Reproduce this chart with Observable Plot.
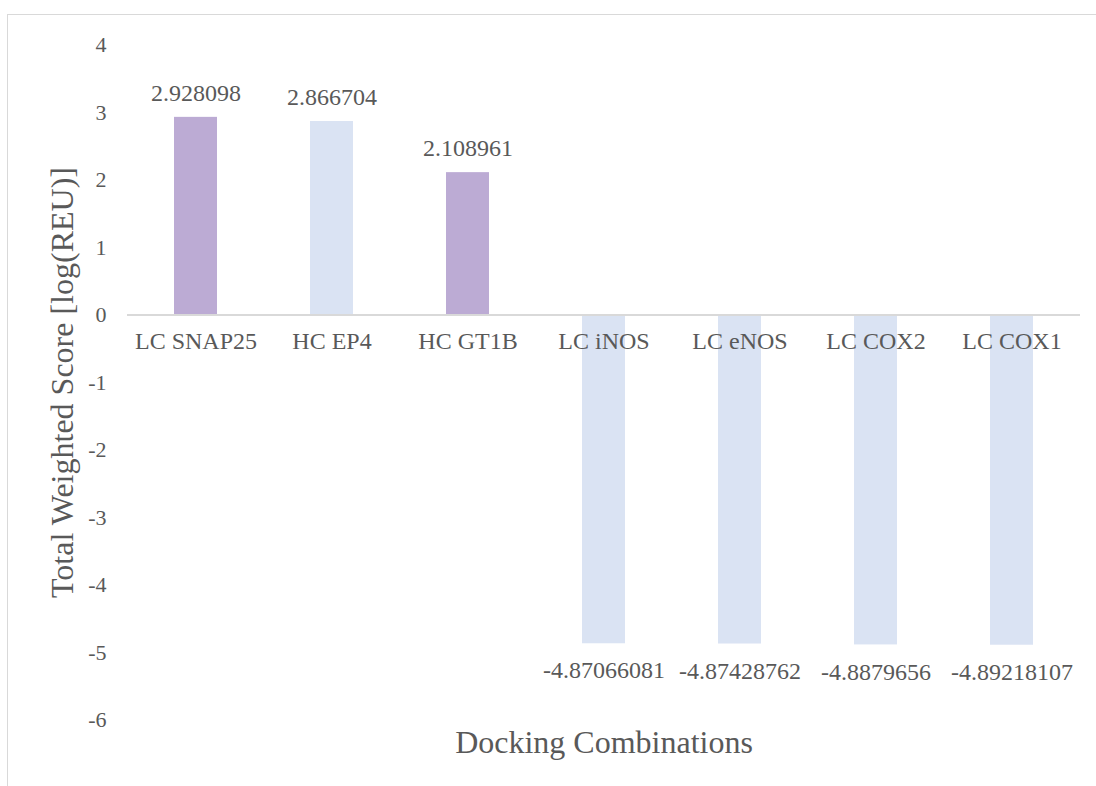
<!DOCTYPE html>
<html>
<head>
<meta charset="utf-8">
<script src="https://cdn.jsdelivr.net/npm/d3@7"></script>
<script src="https://cdn.jsdelivr.net/npm/@observablehq/plot@0.6"></script>
<style>
  html, body { margin: 0; padding: 0; background: #ffffff; overflow: hidden; }
  #wrap { position: relative; width: 1096px; height: 786px; }
  #border {
    position: absolute; left: 7px; top: 14px; width: 1089px; height: 772px;
    border-top: 1.5px solid #d9d9d9; border-left: 1.5px solid #d9d9d9;
    box-sizing: border-box;
  }
  #chart { position: absolute; left: 0; top: 0; }
  #chart svg, #chart svg text { font-family: "Liberation Serif", "Times New Roman", serif !important; }
</style>
</head>
<body>
<div id="wrap">
  <div id="border"></div>
  <div id="chart"></div>
</div>
<script>
// Docking combinations and their total weighted scores
const categories = ["LC SNAP25", "HC EP4", "HC GT1B", "LC iNOS", "LC eNOS", "LC COX2", "LC COX1"];
const scores = [2.928098, 2.866704, 2.108961, -4.87066081, -4.87428762, -4.8879656, -4.89218107];
const series = ["A", "B", "A", "B", "B", "B", "B"];
const yTicks = [-6, -5, -4, -3, -2, -1, 0, 1, 2, 3, 4];
const xTitle = "Docking Combinations";
const yTitle = "Total Weighted Score [log(REU)]";

const rows = categories.map((name, i) => ({ name, score: scores[i], series: series[i] }));
const positive = rows.filter(d => d.score >= 0);
const negative = rows.filter(d => d.score < 0);

const serif = "Liberation Serif, Times New Roman, serif";
const ink = "#595959";

const chart = Plot.plot({
  width: 1096,
  height: 786,
  marginLeft: 127,
  marginRight: 16,
  marginTop: 44.5,
  marginBottom: 66.5,
  style: { fontFamily: serif, color: ink, background: "transparent" },
  x: { domain: categories, paddingInner: 0.684, paddingOuter: 0.342, axis: null },
  y: { domain: [-6, 4], axis: null },
  color: { domain: ["A", "B"], range: ["#bcabd4", "#dae3f3"] },
  marks: [
    Plot.axisY({ ticks: yTicks, tickSize: 0, tickPadding: 21, tickFormat: d => String(d),
                 fontSize: 22, fontFamily: serif, fill: ink, label: null }),
    Plot.barY(rows, { x: "name", y: "score", fill: "series" }),
    Plot.ruleY([0], { stroke: "#d9d9d9", strokeWidth: 2 }),
    // category names sit just below the zero line
    Plot.text(rows, { x: "name", y: () => 0, text: "name", dy: 26, lineAnchor: "middle",
                      fontSize: 24, fontFamily: serif, fill: ink }),
    // value labels: above positive bars, below negative ones
    Plot.text(positive, { x: "name", y: "score", text: d => String(d.score), dy: -24,
                          lineAnchor: "middle", fontSize: 24, fontFamily: serif, fill: ink }),
    Plot.text(negative, { x: "name", y: "score", text: d => String(d.score), dy: 27,
                          lineAnchor: "middle", fontSize: 24, fontFamily: serif, fill: ink }),
    // axis titles
    Plot.text([xTitle], { frameAnchor: "bottom", dy: 22.5, lineAnchor: "middle",
                          fontSize: 32, fontFamily: serif, fill: ink }),
    Plot.text([yTitle], { frameAnchor: "left", rotate: -90, dx: -65, lineAnchor: "middle",
                          textAnchor: "middle", fontSize: 32, fontFamily: serif, fill: ink })
  ]
});

document.getElementById("chart").appendChild(chart);
</script>
</body>
</html>
